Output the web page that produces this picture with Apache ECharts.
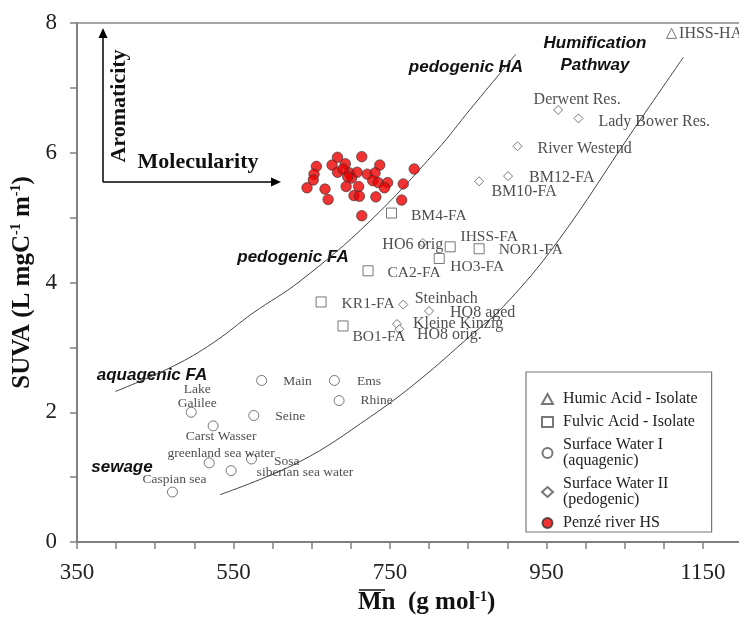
<!DOCTYPE html>
<html>
<head>
<meta charset="utf-8">
<script src="https://cdn.jsdelivr.net/npm/echarts@6.0.0/dist/echarts.min.js"></script>
<style>
html, body { margin: 0; padding: 0; background: #fff; }
#chart { width: 739px; height: 619px; }
</style>
</head>
<body>
<div id="chart"></div>
<script>
// Humic Acid - Isolate
var haNames = ['IHSS-HA'];
var haX = [1110];
var haY = [7.84];

// Fulvic Acid - Isolate
var faNames = ['BM4-FA', 'IHSS-FA', 'NOR1-FA', 'HO3-FA', 'CA2-FA', 'KR1-FA', 'BO1-FA'];
var faX = [752, 827, 864, 813, 722, 662, 690];
var faY = [5.07, 4.55, 4.52, 4.37, 4.18, 3.70, 3.33];

// Surface Water II (pedogenic)
var sw2Names = ['Derwent Res.', 'Lady Bower Res.', 'River Westend', 'BM12-FA', 'BM10-FA', 'HO6 orig', 'Steinbach', 'HO8 aged', 'Kleine Kinzig', 'HO8 orig.'];
var sw2X = [965, 991, 913, 901, 864, 792, 767, 800, 759, 762];
var sw2Y = [6.66, 6.53, 6.10, 5.64, 5.56, 4.61, 3.66, 3.56, 3.36, 3.28];

// Surface Water I (aquagenic)
var sw1Names = ['Main', 'Ems', 'Rhine', 'Lake\nGalilee', 'Seine', 'Carst Wasser', 'greenland sea water', 'Sosa', 'siberian sea water', 'Caspian sea'];
var sw1X = [586, 679, 685, 496, 576, 524, 519, 573, 547, 472];
var sw1Y = [2.49, 2.49, 2.18, 2.00, 1.95, 1.79, 1.22, 1.28, 1.10, 0.77];

// Penzé river HS
var penzeX = [683, 714, 656, 676, 693, 737, 653, 683, 698, 708, 721, 731, 652, 781, 701, 728,
              735, 747, 644, 667, 694, 710, 743, 767, 671, 704, 711, 732, 765, 714, 696, 690];
var penzeY = [5.93, 5.94, 5.79, 5.81, 5.83, 5.81, 5.67, 5.70, 5.69, 5.70, 5.67, 5.69, 5.58, 5.75, 5.61, 5.57,
              5.54, 5.54, 5.46, 5.44, 5.48, 5.48, 5.46, 5.52, 5.28, 5.34, 5.33, 5.32, 5.27, 5.03, 5.63, 5.75];

// humification pathway limits
var upperCurveX = [399, 473, 524, 575, 635, 724, 810, 852, 911];
var upperCurveY = [2.32, 2.71, 3.07, 3.53, 4.02, 4.94, 6.04, 6.66, 7.52];
var lowerCurveX = [533, 635, 725, 788, 852, 895, 963, 1061, 1125];
var lowerCurveY = [0.73, 1.24, 1.93, 2.50, 3.17, 3.63, 4.61, 6.35, 7.47];

var xTickLabels = [350, 550, 750, 950, 1150];
var yTickLabels = [0, 2, 4, 6, 8];

var legendNames = ['Humic Acid - Isolate', 'Fulvic Acid - Isolate', 'Surface Water I\n(aquagenic)',
                   'Surface Water II\n(pedogenic)', 'Penzé river HS'];

var serif = 'Liberation Serif';
var sans = 'Liberation Sans';

// label placement: [position, distance, dx, dy]
var labelLayout = {
    'IHSS-HA': ['right', 2, 0, 0],
    'BM4-FA': ['right', 14, 0, 3],
    'IHSS-FA': ['inside', 0, 39, -10],
    'NOR1-FA': ['right', 14, 0, 1],
    'HO3-FA': ['inside', 0, 38, 8],
    'CA2-FA': ['right', 14, 0, 2],
    'KR1-FA': ['right', 15, 0, 2],
    'BO1-FA': ['inside', 0, 36, 11],
    'Derwent Res.': ['inside', 0, 19, -10],
    'Lady Bower Res.': ['right', 15, 0, 3],
    'River Westend': ['right', 15, 0, 3],
    'BM12-FA': ['right', 16, 0, 2],
    'BM10-FA': ['inside', 0, 45, 11],
    'HO6 orig': ['inside', 0, -10, 2],
    'Steinbach': ['inside', 0, 43, -6],
    'HO8 aged': ['right', 16, 0, 2],
    'Kleine Kinzig': ['right', 11, 0, 0],
    'HO8 orig.': ['inside', 0, 50, 6],
    'Main': ['right', 16, 0, 1],
    'Ems': ['right', 17, 0, 1],
    'Rhine': ['right', 16, 0, 0],
    'Lake\nGalilee': ['inside', 0, 6, -16],
    'Seine': ['right', 16, 0, 1],
    'Carst Wasser': ['inside', 0, 8, 11],
    'greenland sea water': ['inside', 0, 12, -9],
    'Sosa': ['right', 17, 0, 2],
    'siberian sea water': ['right', 20, 0, 2],
    'Caspian sea': ['inside', 0, 2, -13]
};

function pointData(names, xs, ys, fontSize) {
    return names.map(function (n, i) {
        var l = labelLayout[n];
        return {
            name: n,
            value: [xs[i], ys[i]],
            label: {
                show: true,
                formatter: '{b}',
                position: l[0],
                distance: l[1],
                offset: [l[2], l[3]],
                color: '#222',
                fontFamily: serif,
                fontSize: fontSize,
                lineHeight: 14
            }
        };
    });
}

function pairs(xs, ys) {
    return xs.map(function (x, i) { return [x, ys[i]]; });
}

var hollow = { color: '#fff', borderColor: '#555', borderWidth: 1 };

var myChart = echarts.init(document.getElementById('chart'));

myChart.setOption({
    animation: false,
    grid: {
        left: 77, top: 23, width: 665, height: 519,
        outerBoundsMode: 'none', containLabel: false,
        show: true, borderColor: '#888', borderWidth: 1.5
    },
    xAxis: {
        type: 'value', min: 350, max: 1200, interval: 50,
        axisLine: { lineStyle: { color: '#808080', width: 2 } },
        axisTick: { length: 7, lineStyle: { color: '#808080', width: 1.5 } },
        splitLine: { show: false },
        axisLabel: {
            margin: 19, color: '#222', fontFamily: serif, fontSize: 23,
            formatter: function (v) { return xTickLabels.indexOf(v) >= 0 ? String(v) : ''; }
        }
    },
    yAxis: {
        type: 'value', min: 0, max: 8, interval: 1,
        name: 'SUVA (L mgC{s|-1} m{s|-1})',
        nameLocation: 'middle', nameGap: 36,
        nameTextStyle: {
            color: '#111', fontFamily: serif, fontSize: 25, fontWeight: 'bold',
            rich: { s: { fontSize: 14, fontWeight: 'bold', fontFamily: serif, verticalAlign: 'top', color: '#111' } }
        },
        axisLine: { lineStyle: { color: '#808080', width: 2 } },
        axisTick: { length: 7, lineStyle: { color: '#808080', width: 1.5 } },
        splitLine: { show: false },
        axisLabel: {
            margin: 20, color: '#222', fontFamily: serif, fontSize: 23,
            formatter: function (v) { return yTickLabels.indexOf(v) >= 0 ? String(v) : ''; }
        }
    },
    legend: {
        orient: 'vertical', left: 526, top: 372,
        data: legendNames,
        selectedMode: false,
        itemWidth: 11, itemHeight: 10, itemGap: 7,
        padding: [19, 14, 1, 15],
        borderColor: '#777', borderWidth: 1.2,
        textStyle: { fontFamily: serif, fontSize: 16, color: '#222', lineHeight: 16, padding: [0, 0, 0, 5] }
    },
    series: [
        {
            type: 'line', data: pairs(upperCurveX, upperCurveY), smooth: 0.4, symbol: 'none',
            lineStyle: { color: '#444', width: 1 }, z: 1, silent: true
        },
        {
            type: 'line', data: pairs(lowerCurveX, lowerCurveY), smooth: 0.4, symbol: 'none',
            lineStyle: { color: '#444', width: 1 }, z: 1, silent: true
        },
        {
            name: legendNames[0], type: 'scatter', symbol: 'triangle', symbolSize: 10,
            itemStyle: hollow, data: pointData(haNames, haX, haY, 16), z: 3
        },
        {
            name: legendNames[1], type: 'scatter', symbol: 'rect', symbolSize: 10,
            itemStyle: hollow, data: pointData(faNames, faX, faY, 15.5), z: 3
        },
        {
            name: legendNames[2], type: 'scatter', symbol: 'circle', symbolSize: 10,
            itemStyle: hollow, data: pointData(sw1Names, sw1X, sw1Y, 13.5), z: 3
        },
        {
            name: legendNames[3], type: 'scatter', symbol: 'diamond', symbolSize: 9,
            itemStyle: hollow, data: pointData(sw2Names, sw2X, sw2Y, 16), z: 3
        },
        {
            name: legendNames[4], type: 'scatter', symbol: 'circle', symbolSize: 10.5,
            itemStyle: { color: '#ee0000', borderColor: '#333', borderWidth: 0.8 },
            data: pairs(penzeX, penzeY), z: 4
        }
    ],
    graphic: [
        // Aromaticity / Molecularity arrows
        { type: 'line', shape: { x1: 103, y1: 182, x2: 103, y2: 36 }, style: { stroke: '#000', lineWidth: 1.5 } },
        { type: 'polygon', shape: { points: [[103, 28], [98.5, 38], [107.5, 38]] }, style: { fill: '#000' } },
        { type: 'line', shape: { x1: 103, y1: 182, x2: 272, y2: 182 }, style: { stroke: '#000', lineWidth: 1.5 } },
        { type: 'polygon', shape: { points: [[281, 182], [271, 177.5], [271, 186.5]] }, style: { fill: '#000' } },
        {
            type: 'text', x: 119, y: 106, rotation: Math.PI / 2,
            style: { text: 'Aromaticity', fontFamily: serif, fontSize: 22, fontWeight: 'bold', fill: '#111', align: 'center', verticalAlign: 'middle' }
        },
        {
            type: 'text', x: 198, y: 162,
            style: { text: 'Molecularity', fontFamily: serif, fontSize: 22, fontWeight: 'bold', fill: '#111', align: 'center', verticalAlign: 'middle' }
        },
        // region names
        {
            type: 'text', x: 466, y: 67,
            style: { text: 'pedogenic HA', fontFamily: sans, fontSize: 17, fontWeight: 'bold', fontStyle: 'italic', fill: '#111', align: 'center', verticalAlign: 'middle' }
        },
        {
            type: 'text', x: 595, y: 54,
            style: { text: 'Humification\nPathway', lineHeight: 22, fontFamily: sans, fontSize: 17, fontWeight: 'bold', fontStyle: 'italic', fill: '#111', align: 'center', verticalAlign: 'middle' }
        },
        {
            type: 'text', x: 293, y: 257,
            style: { text: 'pedogenic FA', fontFamily: sans, fontSize: 17, fontWeight: 'bold', fontStyle: 'italic', fill: '#111', align: 'center', verticalAlign: 'middle' }
        },
        {
            type: 'text', x: 152, y: 375,
            style: { text: 'aquagenic FA', fontFamily: sans, fontSize: 17, fontWeight: 'bold', fontStyle: 'italic', fill: '#111', align: 'center', verticalAlign: 'middle' }
        },
        {
            type: 'text', x: 122, y: 467,
            style: { text: 'sewage', fontFamily: sans, fontSize: 17, fontWeight: 'bold', fontStyle: 'italic', fill: '#111', align: 'center', verticalAlign: 'middle' }
        },
        // x axis title (M with overline)
        {
            type: 'text', x: 358, y: 603,
            style: {
                text: '{a|Mn  (g mol}{s|-1}{a|)}', align: 'left', verticalAlign: 'middle',
                rich: {
                    a: { fontFamily: serif, fontSize: 25, fontWeight: 'bold', fill: '#111' },
                    s: { fontFamily: serif, fontSize: 14, fontWeight: 'bold', fill: '#111', verticalAlign: 'top' }
                }
            }
        },
        { type: 'line', shape: { x1: 359, y1: 590, x2: 385, y2: 590 }, style: { stroke: '#111', lineWidth: 1.5 } }
    ]
});
</script>
</body>
</html>
